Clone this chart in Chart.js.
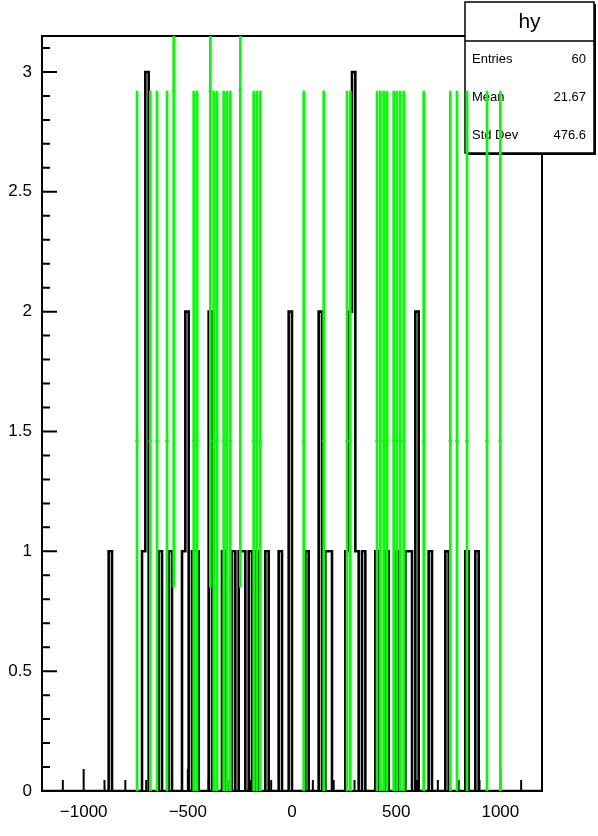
<!DOCTYPE html>
<html>
<head>
<meta charset="utf-8">
<script src="https://cdn.jsdelivr.net/npm/chart.js@4.4.1/dist/chart.umd.min.js"></script>
<style>
  html, body { margin: 0; padding: 0; background: #fff; }
  #wrap { width: 598px; height: 836px; }
</style>
</head>
<body>
<div id="wrap"><canvas id="histo" width="598" height="836"></canvas></div>
<script>
// axis range and binning of "hy"
const xMin = -1200;
const xMax = 1200;
const nBins = 150;
const yMax = 3.15;

const xTickValues = [-1000, -500, 0, 500, 1000];
const yTickValues = [0, 0.5, 1, 1.5, 2, 2.5, 3];

// black histogram: centres of the filled bins and their counts
const blackX = [-872, -712, -696, -632, -584, -520, -504, -472, -456, -392,
                -328, -280, -248, -232, -200, -168, -120, -56, -8, 72,
                136, 168, 184, 264, 280, 296, 312, 344, 408, 456,
                504, 552, 568, 600, 664, 744, 840, 888];
const blackCounts = [1, 1, 3, 1, 1, 1, 2, 1, 1, 2,
                     1, 1, 1, 1, 1, 1, 1, 1, 2, 1,
                     2, 1, 1, 1, 2, 3, 1, 1, 1, 1,
                     1, 1, 1, 2, 1, 1, 1, 1];

// green histogram (scaled, drawn with error bars)
const greenX = [-744, -680, -648, -600, -568, -472, -456, -392, -376, -360,
                -328, -312, -296, -248, -184, -168, -152,
                56, 152, 264, 280, 408, 424, 440, 456, 488, 504,
                520, 536, 632, 760, 792, 840, 936, 1000];
const greenY = [1.46, 1.46, 1.46, 1.46, 2.92, 1.46, 1.46, 2.92, 1.46, 1.46,
                1.46, 1.46, 1.46, 2.92, 1.46, 1.46, 1.46,
                1.46, 1.46, 1.46, 1.46, 1.46, 1.46, 1.46, 1.46, 1.46, 1.46,
                1.46, 1.46, 1.46, 1.46, 1.46, 1.46, 1.46, 1.46];
const greenErr = [1.46, 1.46, 1.46, 1.46, 2.07, 1.46, 1.46, 2.07, 1.46, 1.46,
                  1.46, 1.46, 1.46, 2.07, 1.46, 1.46, 1.46,
                  1.46, 1.46, 1.46, 1.46, 1.46, 1.46, 1.46, 1.46, 1.46, 1.46,
                  1.46, 1.46, 1.46, 1.46, 1.46, 1.46, 1.46, 1.46];

const statsTitle = 'hy';
const statsLabels = ['Entries', 'Mean', 'Std Dev'];
const statsValues = ['60', '21.67', '476.6'];

// build the step outline of the black histogram over all bins
const binWidth = (xMax - xMin) / nBins;
const contents = new Array(nBins).fill(0);
blackX.forEach((x, i) => {
    contents[Math.floor((x - xMin) / binWidth)] += blackCounts[i];
});
const blackSteps = contents.map((c, k) => ({ x: xMin + k * binWidth, y: c }));
blackSteps.push({ x: xMax, y: 0 });

const greenBars = greenX.map((x, i) => ({ x: x, y: [greenY[i] - greenErr[i], greenY[i] + greenErr[i]] }));
const greenMarks = greenX.map((x, i) => ({ x: x, y: greenY[i] }));

const FONT = "'Liberation Sans', Arial, Helvetica, sans-serif";

// frame and tick marks, ROOT style (ticks inside the frame)
const framePlugin = {
    id: 'frame',
    beforeDatasetsDraw(chart) {
        const { ctx, chartArea: a } = chart;
        const xs = chart.scales.x, ys = chart.scales.y;
        ctx.save();
        ctx.strokeStyle = '#000';
        ctx.lineWidth = 2;
        ctx.strokeRect(a.left, a.top, a.right - a.left, a.bottom - a.top);
        ctx.beginPath();
        for (let i = 0; i <= 31; i++) {
            const p = ys.getPixelForValue(i / 10);
            ctx.moveTo(a.left, p);
            ctx.lineTo(a.left + (i % 5 === 0 ? 15 : 8), p);
        }
        for (let v = -1100; v <= 1100; v += 100) {
            const p = xs.getPixelForValue(v);
            ctx.moveTo(p, a.bottom);
            ctx.lineTo(p, a.bottom - (v % 500 === 0 ? 22 : 11));
        }
        ctx.stroke();
        ctx.restore();
    }
};

// statistics box, drawn after the black histogram and below the green one
const statsPlugin = {
    id: 'stats',
    afterDatasetDraw(chart, args) {
        if (args.index !== 0) return;
        const ctx = chart.ctx;
        const L = 465, T = 2, R = 594, B = 153, split = 41;
        ctx.save();
        ctx.fillStyle = '#000';
        ctx.fillRect(L + 2, T + 2, R - L, B - T);
        ctx.fillStyle = '#fff';
        ctx.fillRect(L, T, R - L, B - T);
        ctx.strokeStyle = '#000';
        ctx.lineWidth = 1.5;
        ctx.strokeRect(L, T, R - L, B - T);
        ctx.beginPath();
        ctx.moveTo(L, split);
        ctx.lineTo(R, split);
        ctx.stroke();
        ctx.fillStyle = '#000';
        ctx.textBaseline = 'middle';
        ctx.textAlign = 'center';
        ctx.font = '21px ' + FONT;
        ctx.fillText(statsTitle, (L + R) / 2, 22);
        ctx.font = '13px ' + FONT;
        statsLabels.forEach((lab, i) => {
            const yy = 59 + i * 38;
            ctx.textAlign = 'left';
            ctx.fillText(lab, L + 7, yy);
            ctx.textAlign = 'right';
            ctx.fillText(statsValues[i], R - 8, yy);
        });
        ctx.restore();
    }
};

new Chart(document.getElementById('histo'), {
    type: 'bar',
    data: {
        datasets: [
            {
                type: 'line',
                data: blackSteps,
                stepped: true,
                borderColor: '#000',
                borderWidth: 2.6,
                pointRadius: 0,
                fill: false,
                order: 10
            },
            {
                type: 'bar',
                data: greenBars,
                backgroundColor: '#00ff00',
                borderWidth: 0,
                barThickness: 2,
                order: 2
            },
            {
                type: 'line',
                data: greenMarks,
                showLine: false,
                pointStyle: 'line',
                pointRadius: 2,
                pointBorderColor: '#00ff00',
                pointBorderWidth: 1.5,
                order: 1
            }
        ]
    },
    options: {
        responsive: false,
        animation: false,
        layout: { padding: { top: 36, right: 56, left: 0, bottom: 0 } },
        plugins: { legend: { display: false }, tooltip: { enabled: false } },
        scales: {
            x: {
                type: 'linear',
                min: xMin,
                max: xMax,
                offset: false,
                grid: { display: false, drawTicks: false },
                border: { display: false },
                afterBuildTicks: s => { s.ticks = xTickValues.map(v => ({ value: v })); },
                afterFit: s => { s.height = 45; },
                ticks: {
                    padding: 11,
                    color: '#000',
                    autoSkip: false,
                    maxRotation: 0,
                    font: { family: FONT, size: 17 },
                    callback: v => String(v).replace('-', '\u2212')
                }
            },
            y: {
                type: 'linear',
                min: 0,
                max: yMax,
                grid: { display: false, drawTicks: false },
                border: { display: false },
                afterBuildTicks: s => { s.ticks = yTickValues.map(v => ({ value: v })); },
                afterFit: s => { s.width = 42; },
                ticks: {
                    padding: 10,
                    color: '#000',
                    font: { family: FONT, size: 17 },
                    callback: v => String(v)
                }
            }
        }
    },
    plugins: [framePlugin, statsPlugin]
});
</script>
</body>
</html>
